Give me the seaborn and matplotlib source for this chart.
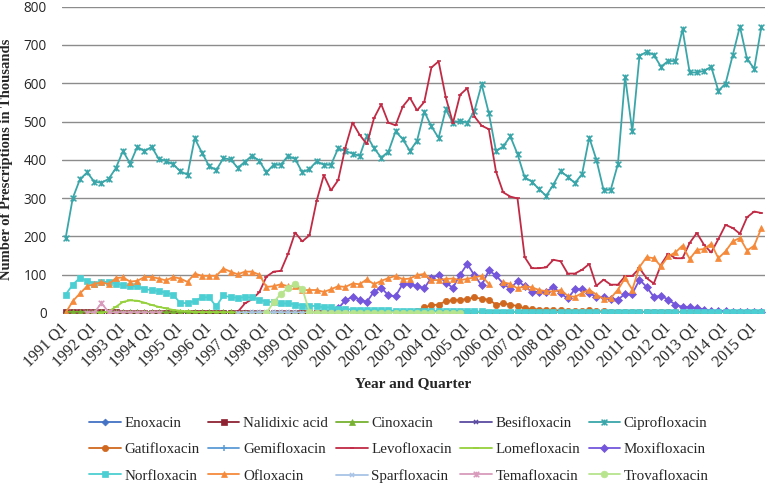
import numpy as np
import pandas as pd
import matplotlib
matplotlib.use('Agg')
import matplotlib.pyplot as plt
import seaborn as sns
from matplotlib.path import Path
from matplotlib.lines import Line2D

# ── Quarterly prescriptions (thousands), 1991 Q1 - 2015 Q2, one row per year ──
QUARTERS = [f'{y} Q{q}' for y in range(1991, 2016) for q in range(1, 5)][:98]

ENOXACIN = [                      # from 1992 Q1
    0.5, 0.5, 0.5, 0.5,
    0.5, 0.5, 0.5, 0.5,
    0.5, 0.5, 0.5, 0.5,
    0.5, 0.5, 0.5, 0.5,
    0.3, 0.3, 0.3, 0.3,
    0.3, 0.3, 0.3, 0.3,
    0.3, 0.3, 0.3, 0.3,
    0.3, 0.3, 0.3, 0.3,
    0.2, 0.2, 0.2, 0.2,
]
NALIDIXIC = [                     # from 1991 Q1
    1.5, 1.5, 1.5, 1.5,
    1.5, 1.5, 1.5, 1.5,
    1.2, 1.2, 1.2, 1.2,
    1.0, 1.0, 1.0, 1.0,
    1.0, 1.0, 1.0, 1.0,
    0.8, 0.8, 0.8, 0.8,
    0.8, 0.8, 0.8, 0.8,
    0.6, 0.6, 0.6, 0.6,
    0.6, 0.6, 0.6, 0.6,
    0.5, 0.5, 0.5, 0.5,
    0.5, 0.5, 0.5, 0.5,
    0.5, 0.5, 0.5, 0.5,
    0.4, 0.4, 0.4, 0.4,
    0.4, 0.4, 0.4, 0.4,
    0.4, 0.4, 0.4, 0.4,
    0.3, 0.3, 0.3, 0.3,
    0.3, 0.3, 0.3, 0.3,
    0.3, 0.3, 0.3, 0.3,
    0.3, 0.3, 0.3, 0.3,
    0.2, 0.2, 0.2, 0.2,
    0.2, 0.2, 0.2, 0.2,
    0.2, 0.2, 0.2, 0.2,
    0.2, 0.2, 0.2, 0.2,
    0.2, 0.2, 0.2, 0.2,
    0.2, 0.2,
]
CINOXACIN = [                     # from 1991 Q1
    3.0, 3.0, 3.0, 3.0,
    3.0, 2.8, 2.8, 2.6,
    2.5, 2.5, 2.4, 2.3,
    2.2, 2.1, 2.0, 2.0,
    1.8, 1.8, 1.7, 1.6,
    1.5, 1.5, 1.4, 1.4,
    1.3, 1.2, 1.2, 1.1,
    1.0, 1.0, 1.0, 0.9,
    0.9, 0.8, 0.8, 0.8,
    0.7, 0.7, 0.7, 0.6,
    0.6, 0.6, 0.5, 0.5,
    0.5, 0.5, 0.5, 0.4,
    0.4, 0.4, 0.4, 0.4,
    0.3, 0.3, 0.3, 0.3,
    0.3, 0.3, 0.3, 0.3,
    0.2, 0.2, 0.2, 0.2,
    0.2, 0.2, 0.2, 0.2,
    0.2, 0.2, 0.2, 0.2,
    0.2, 0.2, 0.2, 0.2,
    0.1, 0.1, 0.1, 0.1,
    0.1, 0.1, 0.1, 0.1,
    0.1, 0.1, 0.1, 0.1,
    0.1, 0.1, 0.1, 0.1,
    0.1, 0.1, 0.1, 0.1,
    0.1, 0.1,
]
BESIFLOXACIN = [                  # from 2009 Q3
    0.5, 1.0,
    1.5, 1.5, 2.0, 2.0,
    2.0, 2.0, 2.0, 2.0,
    2.0, 2.0, 2.0, 2.0,
    2.0, 2.0, 2.0, 2.0,
    2.0, 2.0, 2.0, 2.0,
    2.0, 2.0,
]
CIPROFLOXACIN = [                 # from 1991 Q1
    195, 300, 349, 367,
    343, 340, 350, 378,
    423, 390, 434, 422,
    434, 402, 397, 388,
    370, 361, 456, 419,
    384, 373, 404, 401,
    379, 395, 411, 397,
    367, 387, 387, 410,
    402, 367, 376, 396,
    387, 387, 430, 423,
    416, 410, 463, 430,
    406, 421, 474, 454,
    423, 450, 526, 487,
    457, 532, 496, 502,
    496, 528, 597, 522,
    423, 435, 461, 415,
    354, 343, 323, 306,
    335, 370, 356, 339,
    363, 458, 400, 321,
    322, 389, 617, 474,
    671, 682, 674, 643,
    658, 658, 741, 628,
    628, 632, 643, 580,
    599, 673, 748, 663,
    638, 748,
]
GATIFLOXACIN = [                  # from 2000 Q1
    0.5, 0.5, 0.5, 0.5,
    0.5, 0.5, 0.5, 0.5,
    0.5, 0.5, 0.5, 0.5,
    0.5, 5, 15, 20,
    22, 31, 33, 35,
    36, 41, 37, 35,
    22, 25, 22, 18,
    12, 10, 9, 8,
    7, 7, 6, 6,
    6, 7, 5, 4,
    3, 3, 2, 2,
    2, 2, 2, 2,
    2, 2, 2, 2,
    2, 2, 2, 2,
    2, 2, 2, 2,
    2, 2,
]
GEMIFLOXACIN = [                  # from 2004 Q1
    0.5, 0.8, 1.0, 1.0,
    1.0, 1.0, 1.0, 1.0,
    1.0, 1.0, 1.0, 1.0,
    1.0, 1.0, 1.0, 1.0,
    1.0, 1.0, 1.0, 1.0,
    1.0, 1.0, 1.0, 1.0,
    0.8, 0.8, 0.8, 0.8,
    0.8, 0.8, 0.8, 0.8,
    0.5, 0.5, 0.5, 0.5,
    0.5, 0.5, 0.5, 0.5,
    0.5, 0.5, 0.5, 0.5,
    0.5, 0.5,
]
LEVOFLOXACIN = [                  # from 1997 Q1
    3, 25, 36, 54,
    95, 108, 110, 154,
    210, 187, 203, 293,
    360, 320, 347, 432,
    497, 465, 441, 509,
    545, 497, 490, 539,
    562, 529, 551, 641,
    657, 563, 496, 570,
    587, 513, 489, 480,
    369, 315, 304, 299,
    146, 117, 117, 119,
    139, 135, 103, 103,
    113, 128, 71, 87,
    74, 74, 96, 97,
    117, 91, 77, 126,
    155, 143, 143, 183,
    209, 178, 158, 193,
    230, 222, 207, 250,
    265, 261,
]
LOMEFLOXACIN = [                  # from 1992 Q1
    0, 1, 4, 16,
    29, 33, 32, 27,
    21, 16, 12, 8,
    6, 4, 3, 2,
    2, 2, 1.5, 1.5,
    1.2, 1.2, 1.0, 1.0,
    1.0, 1.0, 1.0, 1.0,
    0.8, 0.8, 0.8, 0.8,
    0.6, 0.6, 0.6, 0.6,
    0.5, 0.5, 0.5, 0.5,
    0.5, 0.5, 0.5, 0.5,
    0.4, 0.4, 0.4, 0.4,
    0.4, 0.4, 0.4, 0.4,
    0.3, 0.3, 0.3, 0.3,
    0.3, 0.3, 0.3, 0.3,
    0.3, 0.3, 0.3, 0.3,
    0.2, 0.2, 0.2, 0.2,
    0.2, 0.2, 0.2, 0.2,
    0.2, 0.2, 0.2, 0.2,
    0.2, 0.2, 0.2, 0.2,
    0.2, 0.2, 0.2, 0.2,
    0.2, 0.2, 0.2, 0.2,
    0.2, 0.2,
]
MOXIFLOXACIN = [                  # from 2000 Q1
    1, 3, 12, 33,
    42, 35, 29, 56,
    66, 46, 44, 76,
    75, 70, 65, 92,
    98, 79, 66, 100,
    128, 98, 72, 111,
    98, 77, 63, 84,
    70, 55, 55, 56,
    68, 51, 38, 62,
    63, 52, 42, 42,
    37, 35, 50, 50,
    87, 68, 42, 45,
    35, 22, 16, 15,
    13, 9, 6, 6,
    4, 3, 3, 3,
    3, 3,
]
NORFLOXACIN = [                   # from 1991 Q1
    48, 74, 92, 84,
    77, 80, 82, 77,
    73, 70, 70, 62,
    60, 57, 53, 47,
    26, 26, 31, 41,
    41, 17, 46, 41,
    40, 41, 41, 35,
    29, 29, 25, 25,
    22, 19, 19, 18,
    15, 15, 11, 11,
    9, 9, 8, 8,
    7, 7, 6, 6,
    6, 5, 5, 5,
    5, 4, 4, 4,
    4, 4, 4, 3,
    3, 3, 3, 3,
    2.5, 2.5, 2.5, 2.5,
    2.5, 2.5, 2.5, 2.5,
    2, 2, 2, 2,
    2, 2, 2, 2,
    2, 2, 2, 2,
    2, 2, 2, 2,
    2, 2, 2, 2,
    2, 2, 2, 2,
    2, 2,
]
OFLOXACIN = [                     # from 1991 Q1 (2006 Q1 missing)
    0, 31, 51, 70,
    75, 81, 75, 91,
    93, 82, 84, 94,
    94, 90, 85, 94,
    90, 81, 103, 97,
    97, 97, 116, 108,
    101, 108, 108, 100,
    68, 70, 75, 70,
    70, 60, 60, 60,
    55, 62, 70, 68,
    77, 75, 88, 75,
    84, 91, 97, 88,
    90, 99, 102, 86,
    86, 89, 90, 86,
    89, 93, 97, 76,
    np.nan, 80, 76, 64,
    70, 67, 60, 57,
    56, 60, 45, 42,
    52, 61, 48, 37,
    39, 61, 91, 61,
    120, 146, 143, 122,
    148, 158, 176, 141,
    165, 167, 181, 143,
    161, 187, 196, 163,
    176, 222,
]
SPARFLOXACIN = [                  # from 1997 Q1
    0.5, 1.0, 1.5, 2.0,
    2.0, 2.0, 2.0, 1.5,
    1.5, 1.0, 1.0, 0.5,
    0.5, 0.5, 0.3, 0.3,
]
TEMAFLOXACIN = [                  # from 1991 Q4
    0,
    1, 26, 2, 0,
    0, 0, 0, 0,
    0, 0,
]
TROVAFLOXACIN = [                 # from 1998 Q1
    0, 28, 50, 65,
    77, 63, 3, 0.5,
    0.5, 0.5, 0.5, 0.5,
    0.5, 0.5, 0.5, 0.5,
    0.5, 0.5, 0.5, 0.5,
    0.5, 0.5, 0.5, 0.5,
    0.5, 0.5, 0.5, 0.5,
]

# name, first quarter, values
SERIES = [
    ('Enoxacin', '1992 Q1', ENOXACIN),
    ('Nalidixic acid', '1991 Q1', NALIDIXIC),
    ('Cinoxacin', '1991 Q1', CINOXACIN),
    ('Besifloxacin', '2009 Q3', BESIFLOXACIN),
    ('Ciprofloxacin', '1991 Q1', CIPROFLOXACIN),
    ('Gatifloxacin', '2000 Q1', GATIFLOXACIN),
    ('Gemifloxacin', '2004 Q1', GEMIFLOXACIN),
    ('Levofloxacin', '1997 Q1', LEVOFLOXACIN),
    ('Lomefloxacin', '1992 Q1', LOMEFLOXACIN),
    ('Moxifloxacin', '2000 Q1', MOXIFLOXACIN),
    ('Norfloxacin', '1991 Q1', NORFLOXACIN),
    ('Ofloxacin', '1991 Q1', OFLOXACIN),
    ('Sparfloxacin', '1997 Q1', SPARFLOXACIN),
    ('Temafloxacin', '1991 Q4', TEMAFLOXACIN),
    ('Trovafloxacin', '1998 Q1', TROVAFLOXACIN),
]

# Excel-style "star" marker: x with a vertical bar
STAR = Path([(-1, -1), (1, 1), (-1, 1), (1, -1), (0, -1), (0, 1)],
            [Path.MOVETO, Path.LINETO, Path.MOVETO, Path.LINETO, Path.MOVETO, Path.LINETO])

STYLES = {
    'Enoxacin':       ('#4472C4', 'D', 3.5),
    'Nalidixic acid': ('#8E2233', 's', 4.0),
    'Cinoxacin':      ('#76B131', '^', 4.5),
    'Besifloxacin':   ('#5B4BA0', 'x', 3.5),
    'Ciprofloxacin':  ('#3AA6A9', STAR, 4.2),
    'Gatifloxacin':   ('#D0681F', 'o', 4.5),
    'Gemifloxacin':   ('#5B9BD5', '+', 4.0),
    'Levofloxacin':   ('#C02A44', '_', 3.5),
    'Lomefloxacin':   ('#95D13C', '_', 4.0),
    'Moxifloxacin':   ('#7356DC', 'D', 3.8),
    'Norfloxacin':    ('#4CCFD2', 's', 4.2),
    'Ofloxacin':      ('#F58A3B', '^', 4.8),
    'Sparfloxacin':   ('#A9C4E6', 'x', 3.5),
    'Temafloxacin':   ('#D89BBB', STAR, 4.0),
    'Trovafloxacin':  ('#B8E48E', 'o', 4.8),
}

# ── Long table ──
rows = []
for name, start, values in SERIES:
    i0 = QUARTERS.index(start)
    part = 0
    for k, v in enumerate(values):
        if np.isnan(v):
            part += 1
            continue
        rows.append({'drug': name, 'pos': i0 + k, 'value': v, 'part': part})
df = pd.DataFrame(rows)

sns.set_style('white')
fig = plt.figure(figsize=(7.67, 4.84), dpi=100)
ax = fig.add_axes([62 / 767, 1 - 313 / 484, 703 / 767, 306.4 / 484])

handles = []
for name, _, _ in SERIES:
    color, marker, ms = STYLES[name]
    line_art = marker in ('x', '+', '_') or marker is STAR
    sns.lineplot(data=df[df.drug == name], x='pos', y='value', units='part',
                 estimator=None, ax=ax, color=color, linewidth=1.3,
                 marker=marker, markersize=ms, markeredgecolor=color,
                 markerfacecolor=color, markeredgewidth=1.1 if line_art else 0.5,
                 legend=False)
    handles.append(Line2D([], [], color=color, linewidth=1.3, marker=marker,
                          markersize=ms, markeredgecolor=color, markerfacecolor=color,
                          markeredgewidth=1.1 if line_art else 0.5, label=name))

n = len(QUARTERS)
ax.set_xlim(-0.5, n - 0.5)
ax.set_ylim(0, 800)
ax.set_yticks(range(0, 801, 100))
ax.set_xticks(range(0, n, 4))
ax.set_xticklabels(QUARTERS[::4], rotation=45, ha='right', va='center',
                   rotation_mode='anchor', fontsize=11.3, family='Liberation Serif')
for lab in ax.get_yticklabels():
    lab.set_family('Open Sans')
    lab.set_fontsize(9.8)
ax.tick_params(axis='both', length=0)
ax.tick_params(axis='x', pad=9)
ax.tick_params(axis='y', pad=11)
ax.grid(axis='y', color='#8c8c8c', linewidth=1.0)
ax.grid(axis='x', visible=False)
sns.despine(ax=ax, left=True, bottom=True)

ax.set_xlabel('Year and Quarter', fontsize=11, fontweight='bold', family='Liberation Serif')
ax.set_ylabel('Number of Prescriptions in Thousands', fontsize=10.5, fontweight='bold',
              family='Liberation Serif')
ax.xaxis.set_label_coords(0.5, -0.21)
ax.yaxis.set_label_coords(-0.069, 0.5)

# Legend fills row by row like Excel: reorder for matplotlib's column-first fill
ncol, nrow = 5, 3
order = [r * ncol + c for c in range(ncol) for r in range(nrow)]
fig.legend([handles[i] for i in order], [handles[i].get_label() for i in order],
           loc='upper left', bbox_to_anchor=(89 / 767, 1 - 416 / 484), ncol=ncol,
           frameon=False, borderpad=0, borderaxespad=0, handlelength=2.1,
           handletextpad=0.25, columnspacing=0.55, labelspacing=0.86,
           prop={'family': 'Liberation Serif', 'size': 10.8})

fig.savefig('out.png', dpi=100)
